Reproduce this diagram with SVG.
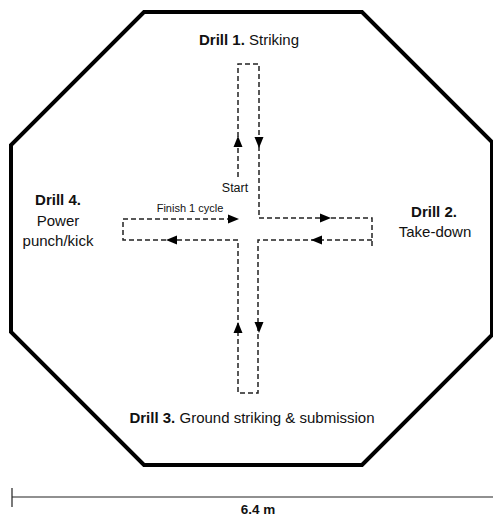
<svg xmlns="http://www.w3.org/2000/svg" width="493" height="517" viewBox="0 0 493 517">
<style>
.t{font-family:"Liberation Sans",Arial,sans-serif;font-size:15px;fill:#111}
.b{font-weight:bold}
.s{font-size:11px}
.ring{fill:none;stroke:#000;stroke-width:4;stroke-linejoin:miter}
.dash{fill:none;stroke:#222;stroke-width:1.5;stroke-dasharray:5 3}
.scale{fill:none;stroke:#222;stroke-width:1.2}
</style>
<defs>
<path id="ah" d="M0,-6 L4.5,5 L-4.5,5 Z" fill="#000"/>
</defs>
<rect width="493" height="517" fill="#fff"/>
<g id="octagon">
<polygon class="ring" points="144,12 362,12 492,142 492,335 362,465 144,465 11,332 11,145"/>
</g>
<g id="connectors">
<path class="dash" d="M238,177 V64 H259 V218 H372 V247 M372,240 H258 V393 H238 V240 H123 V219 H232"/>
<use href="#ah" transform="translate(238,142)"/>
<use href="#ah" transform="translate(259,142) rotate(180)"/>
<use href="#ah" transform="translate(325,218) rotate(90)"/>
<use href="#ah" transform="translate(317,240) rotate(-90)"/>
<use href="#ah" transform="translate(259,327) rotate(180)"/>
<use href="#ah" transform="translate(238,328)"/>
<use href="#ah" transform="translate(172,240) rotate(-90)"/>
<use href="#ah" transform="translate(233,219) rotate(90)"/>
</g>
<g id="drill1">
<text class="t" x="249" y="45" text-anchor="middle"><tspan class="b">Drill 1.</tspan> Striking</text>
</g>
<g id="drill2">
<text class="t b" x="434" y="217" text-anchor="middle">Drill 2.</text>
<text class="t" x="435" y="237" text-anchor="middle">Take-down</text>
</g>
<g id="drill3">
<text class="t" x="252" y="423" text-anchor="middle"><tspan class="b">Drill 3.</tspan> Ground striking &amp; submission</text>
</g>
<g id="drill4">
<text class="t b" x="58" y="205" text-anchor="middle">Drill 4.</text>
<text class="t" x="58" y="226" text-anchor="middle">Power</text>
<text class="t" x="58" y="246" text-anchor="middle">punch/kick</text>
</g>
<g id="start">
<text class="t" style="font-size:12.5px" x="235" y="192" text-anchor="middle">Start</text>
</g>
<g id="finish">
<text class="t s" x="190" y="212" text-anchor="middle">Finish 1 cycle</text>
</g>
<g id="scale">
<path class="scale" d="M12,497 H493 M12,488 V507"/>
<text class="t b" style="font-size:13.5px" x="258" y="514" text-anchor="middle">6.4 m</text>
</g>
</svg>
